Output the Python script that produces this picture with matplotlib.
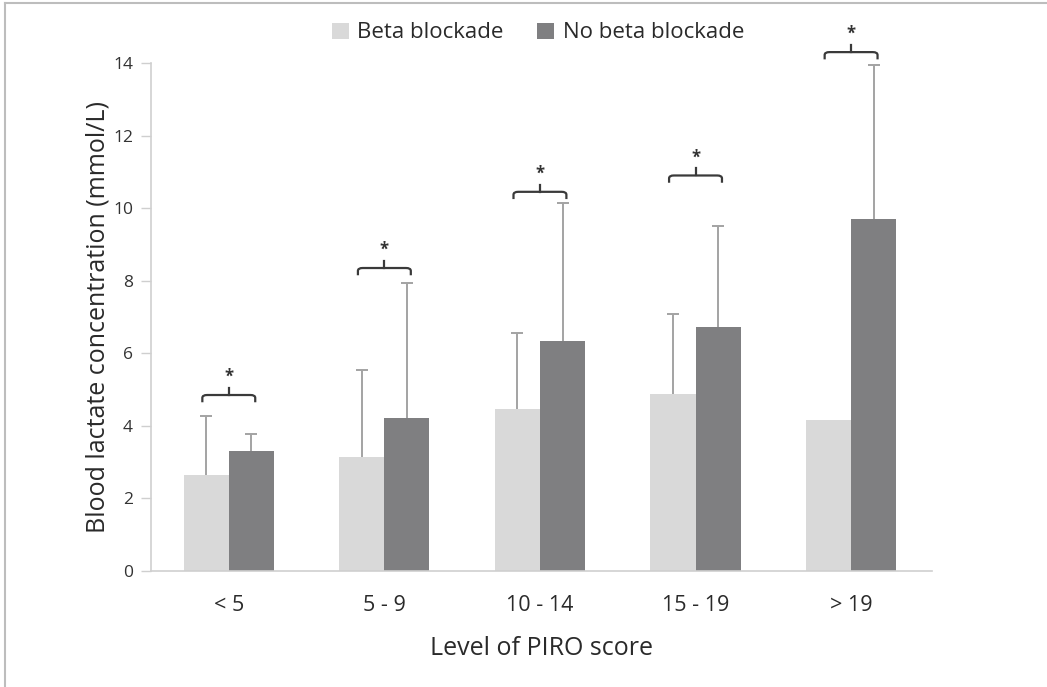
import matplotlib
matplotlib.use("Agg")
import matplotlib.pyplot as plt
from matplotlib.path import Path
from matplotlib.patches import PathPatch
from matplotlib.lines import Line2D
import numpy as np

categories = ["< 5", "5 - 9", "10 - 14", "15 - 19", "> 19"]
beta_mean = [2.65, 3.15, 4.47, 4.87, 4.15]
beta_upper = [4.27, 5.55, 6.55, 7.07, 4.15]
nobeta_mean = [3.30, 4.22, 6.33, 6.73, 9.70]
nobeta_upper = [3.78, 7.95, 10.15, 9.50, 13.95]
bracket_level = [4.85, 8.35, 10.45, 10.9, 14.3]
series_names = ["Beta blockade", "No beta blockade"]
yticks = [0, 2, 4, 6, 8, 10, 12, 14]

plt.rcParams['font.family'] = ['Open Sans', 'DejaVu Sans']

fig = plt.figure(figsize=(10.47, 6.87), dpi=100)
ax = fig.add_axes([151/1047, 1-571/687, (932-151)/1047, (571-63)/687])

x = np.arange(len(categories))
w = 0.29
c_beta = "#d9d9d9"
c_nob = "#7f7f81"
c_err = "#a3a3a3"

ax.bar(x - w/2, beta_mean, w, color=c_beta, label=series_names[0], zorder=2)
ax.bar(x + w/2, nobeta_mean, w, color=c_nob, label=series_names[1], zorder=2)

# upper-only error bars
for xs, means, ups in [(x - w/2, beta_mean, beta_upper), (x + w/2, nobeta_mean, nobeta_upper)]:
    for xi, m, u in zip(xs, means, ups):
        if u > m:
            ax.vlines(xi, m, u, colors=c_err, lw=1.4, zorder=1)
            ax.plot([xi], [u], marker='_', ms=8, mew=1.4, color=c_err, zorder=1)

# significance brackets
half = 0.17
drop = 0.2
r = 0.03
rv = 0.08
for xi, lvl in zip(x, bracket_level):
    xl, xr = xi - half, xi + half
    verts = [(xl, lvl - drop), (xl, lvl - rv), (xl, lvl), (xl + r, lvl),
             (xr - r, lvl), (xr, lvl), (xr, lvl - rv), (xr, lvl - drop)]
    codes = [Path.MOVETO, Path.LINETO, Path.CURVE3, Path.CURVE3,
             Path.LINETO, Path.CURVE3, Path.CURVE3, Path.LINETO]
    ax.add_patch(PathPatch(Path(verts, codes), fill=False, edgecolor="#3a3a3a",
                           lw=1.6, clip_on=False, zorder=3))
    ax.plot([xi, xi], [lvl, lvl + 0.2], color="#3a3a3a", lw=1.6,
            clip_on=False, zorder=3)
    ax.text(xi, lvl + 0.5, "*", ha='center', va='center', fontsize=12,
            fontweight='bold', color="#333333", clip_on=False)

ax.set_xlim(-0.5, 4.52)
ax.set_ylim(0, 14)
ax.set_yticks(yticks)
ax.set_yticklabels([str(t) for t in yticks], fontsize=12.5, color="#333333")
ax.set_xticks(x)
ax.set_xticklabels(categories, fontsize=15.5, color="#2a2a2a")
ax.tick_params(axis='x', length=0, pad=17)
ax.tick_params(axis='y', length=7, width=1, color="#cfcfcf", pad=6)

for s in ['top', 'right']:
    ax.spines[s].set_visible(False)
ax.spines['left'].set_color("#cfcfcf")
ax.spines['bottom'].set_color("#cfcfcf")
ax.spines['left'].set_linewidth(1.2)
ax.spines['bottom'].set_linewidth(1.2)

ax.set_ylabel("Blood lactate concentration (mmol/L)", fontsize=18,
              color="#2a2a2a", labelpad=2)
ax.set_xlabel("Level of PIRO score", fontsize=18, color="#2a2a2a", labelpad=15)

fig.legend(loc='center', bbox_to_anchor=(538/1047, 1-33/687), ncol=2,
           frameon=False, fontsize=16, handlelength=0.75, handleheight=0.75,
           handletextpad=0.4, columnspacing=1.5, labelcolor="#2a2a2a")

# figure border (left and top)
fig.add_artist(Line2D([5/1047, 5/1047], [0, 1-3/687], transform=fig.transFigure,
                      color="#bdbdbd", lw=1.5))
fig.add_artist(Line2D([5/1047, 1], [1-3/687, 1-3/687], transform=fig.transFigure,
                      color="#bdbdbd", lw=1.5))

fig.savefig("out.png", dpi=100)
